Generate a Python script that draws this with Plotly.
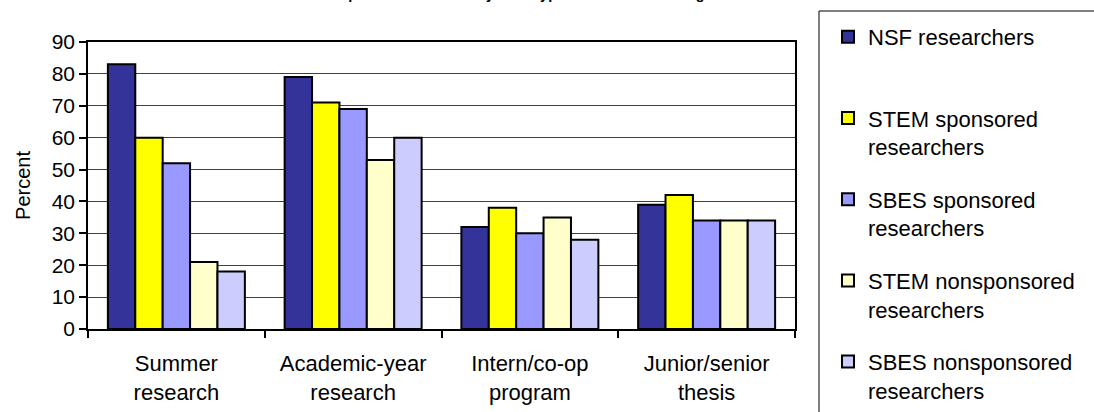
import plotly.graph_objects as go

categories = ["Summer<br>research", "Academic-year<br>research", "Intern/co-op<br>program", "Junior/senior<br>thesis"]
series_names = ["NSF researchers<br>\u00a0", "STEM sponsored<br>researchers", "SBES sponsored<br>researchers",
                "STEM nonsponsored<br>researchers", "SBES nonsponsored<br>researchers"]
nsf = [83, 79, 32, 39]
stem_sp = [60, 71, 38, 42]
sbes_sp = [52, 69, 30, 34]
stem_non = [21, 53, 35, 34]
sbes_non = [18, 60, 28, 34]
values = [nsf, stem_sp, sbes_sp, stem_non, sbes_non]
colors = ["#333399", "#FFFF00", "#9999FF", "#FFFFCC", "#CCCCFF"]
title_text = "Participation in research by each type of research training"
y_ticks = list(range(0, 91, 10))

W, H = 1094, 412
L, R, T, B = 88, 299, 42, 83
PW, PH = W - L - R, H - T - B

def px_x(p):
    return (p - L) / PW

def px_y(p):
    return 1 - (p - T) / PH

FONT = "Liberation Sans, Arial, sans-serif"
legend_ids = ["legend", "legend", "legend", "legend2", "legend2"]

fig = go.Figure()
for i, (name, vals, col) in enumerate(zip(series_names, values, colors)):
    fig.add_trace(go.Bar(
        x=categories, y=vals, name=name, legendgroup=f"g{i}", legend=legend_ids[i],
        marker=dict(color=col, line=dict(color="black", width=2)),
    ))

legend_frame = [
    dict(type="line", xref="paper", yref="paper",
         x0=px_x(819), x1=px_x(1094), y0=px_y(11), y1=px_y(11),
         line=dict(color="black", width=1), layer="above"),
    dict(type="line", xref="paper", yref="paper",
         x0=px_x(819), x1=px_x(819), y0=px_y(11), y1=px_y(412),
         line=dict(color="black", width=1), layer="above"),
]

legend_style = dict(
    x=px_x(828), xanchor="left", yref="container", yanchor="top",
    font=dict(family=FONT, size=22, color="black"),
    bgcolor="rgba(0,0,0,0)", borderwidth=0,
    tracegroupgap=21, valign="top", maxheight=3000,
)

fig.update_layout(
    width=W, height=H,
    margin=dict(l=L, r=R, t=T, b=B, autoexpand=False),
    paper_bgcolor="white", plot_bgcolor="white",
    barmode="group", bargap=0.225, bargroupgap=0,
    font=dict(family=FONT, color="black", size=20),
    showlegend=True,
    legend=dict(y=1 - 16 / H, **legend_style),
    legend2=dict(y=1 - (16 + 3 * 81.2) / H, **legend_style),
    xaxis=dict(
        showline=True, linecolor="black", linewidth=1.5, mirror=True,
        ticks="outside", tickson="boundaries", ticklen=7, tickcolor="black", tickwidth=1.5,
        tickfont=dict(family=FONT, size=22, color="black"),
        ticklabelstandoff=14,
        showgrid=False,
    ),
    yaxis=dict(
        range=[0, 90], tickvals=y_ticks, ticktext=[str(v) for v in y_ticks],
        showline=True, linecolor="black", linewidth=1.5, mirror=True,
        ticks="outside", ticklen=7, tickcolor="black", tickwidth=1.5,
        showgrid=True, gridcolor="#404040", gridwidth=1,
        tickfont=dict(family=FONT, size=21, color="black"),
        title=dict(text="Percent", font=dict(family=FONT, size=20, color="black"), standoff=16),
        zeroline=False,
    ),
    shapes=legend_frame,
    annotations=[dict(text="<b>" + title_text + "</b>", xref="paper", yref="paper",
                      x=px_x(303), xanchor="left", y=px_y(3.5), yanchor="bottom",
                      showarrow=False, borderpad=0,
                      font=dict(family=FONT, size=14.5, color="black"))],
)

fig.write_html("out.html", config={"displayModeBar": False},
               post_script="document.body.style.margin='0';document.body.style.overflow='hidden';")
